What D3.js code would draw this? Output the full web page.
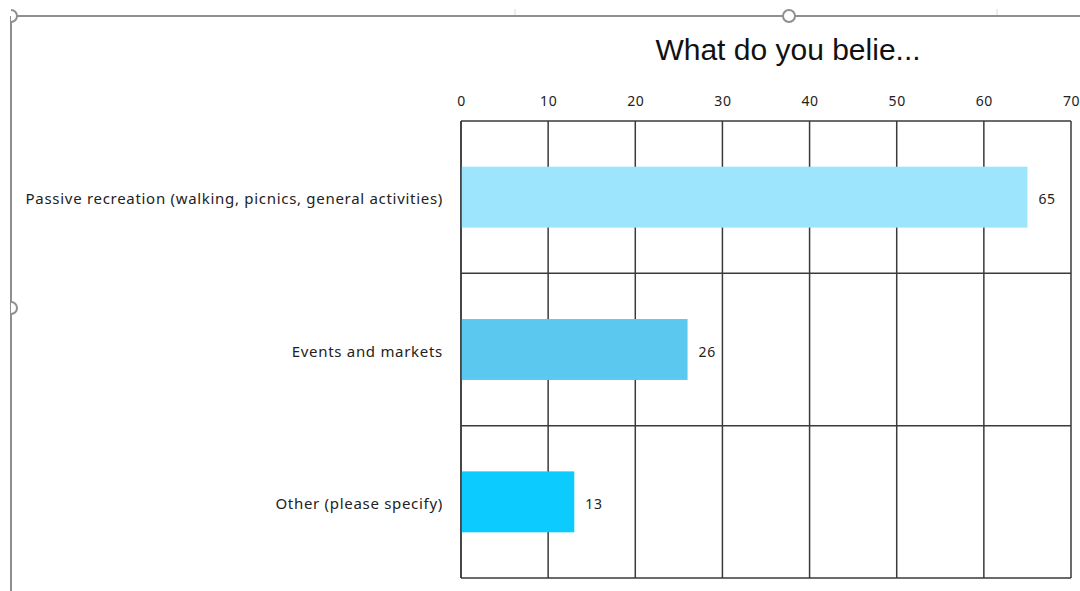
<!DOCTYPE html>
<html>
<head>
<meta charset="utf-8">
<script src="https://cdn.jsdelivr.net/npm/d3@7"></script>
<style>
  body { margin: 0; background: #fff; }
  svg { display: block; }
</style>
</head>
<body>
<script>
const categories = ["Passive recreation (walking, picnics, general activities)", "Events and markets", "Other (please specify)"];
const values = [65, 26, 13];
const barColors = ["#9de4fd", "#5bc9ef", "#0bcbff"];
const xTicks = [0, 10, 20, 30, 40, 50, 60, 70];
const title = "What do you belie...";

const width = 1080, height = 591;
const plotLeft = 461, plotRight = 1071, plotTop = 121, plotBottom = 578;

const svg = d3.select("body").append("svg")
    .attr("width", width)
    .attr("height", height);

// selection frame of the embedded chart
const frame = "#8f8f8f";
svg.append("clipPath").attr("id", "inside")
   .append("rect").attr("x", 11).attr("y", 0).attr("width", width).attr("height", height);
svg.append("line").attr("x1", 11).attr("x2", width).attr("y1", 16).attr("y2", 16)
   .style("stroke", frame).style("stroke-width", 2);
svg.append("line").attr("x1", 11).attr("x2", 11).attr("y1", 16).attr("y2", height)
   .style("stroke", frame).style("stroke-width", 2);
[515, 997].forEach(x => {
    svg.append("line").attr("x1", x).attr("x2", x).attr("y1", 9).attr("y2", 15)
       .style("stroke", "#dcdcdc").style("stroke-width", 1);
});
[[11, 16], [789, 16], [11, 308]].forEach(([cx, cy]) => {
    svg.append("circle").attr("cx", cx).attr("cy", cy).attr("r", 6)
       .attr("clip-path", "url(#inside)")
       .style("fill", "#fff").style("stroke", frame).style("stroke-width", 2);
});

const xScale = d3.scaleLinear().domain([0, 70]).range([plotLeft, plotRight]);
const yScale = d3.scaleBand().domain(categories).range([plotTop, plotBottom]).padding(0);

const grid = "#3a3a3a";
const labelFont = "'Noto Sans', sans-serif";

// vertical gridlines
svg.selectAll("line.vgrid")
   .data(xTicks)
   .enter()
   .append("line")
   .attr("class", "vgrid")
   .attr("x1", d => xScale(d)).attr("x2", d => xScale(d))
   .attr("y1", plotTop).attr("y2", plotBottom)
   .style("stroke", grid).style("stroke-width", 1.5);

// horizontal lines between categories
svg.selectAll("line.hgrid")
   .data(categories.concat(["_end"]))
   .enter()
   .append("line")
   .attr("class", "hgrid")
   .attr("x1", plotLeft).attr("x2", plotRight)
   .attr("y1", d => d === "_end" ? plotBottom : yScale(d))
   .attr("y2", d => d === "_end" ? plotBottom : yScale(d))
   .style("stroke", grid).style("stroke-width", 1.5);

// bars (drawn over the grid)
svg.selectAll("rect.bar")
   .data(values)
   .enter()
   .append("rect")
   .attr("class", "bar")
   .attr("x", xScale(0))
   .attr("y", (d, i) => yScale(categories[i]) + yScale.bandwidth() * 0.3)
   .attr("width", d => xScale(d) - xScale(0))
   .attr("height", yScale.bandwidth() * 0.4)
   .style("fill", (d, i) => barColors[i]);

// left edge of the plot stays visible over the bars
svg.append("line")
   .attr("x1", xScale(0)).attr("x2", xScale(0))
   .attr("y1", plotTop).attr("y2", plotBottom)
   .style("stroke", grid).style("stroke-width", 1.5);

// top axis labels
const xAxis = d3.axisTop(xScale).tickValues(xTicks).tickSize(0).tickPadding(0);
const gx = svg.append("g")
   .attr("transform", "translate(0," + (plotTop - 15) + ")")
   .call(xAxis);
gx.select(".domain").remove();
gx.selectAll("text")
  .style("font-family", labelFont)
  .style("font-size", "14px")
  .style("letter-spacing", "0.6px")
  .style("fill", "#222");

// category labels
const yAxis = d3.axisLeft(yScale).tickSize(0).tickPadding(18);
const gy = svg.append("g")
   .attr("transform", "translate(" + plotLeft + ",0)")
   .call(yAxis);
gy.select(".domain").remove();
gy.selectAll("text")
  .attr("dy", "0.47em")
  .style("font-family", labelFont)
  .style("font-size", "15px")
  .style("letter-spacing", "0.7px")
  .style("fill", "#222");

// value labels
svg.selectAll("text.value")
   .data(values)
   .enter()
   .append("text")
   .attr("class", "value")
   .attr("x", d => xScale(d) + 11)
   .attr("y", (d, i) => yScale(categories[i]) + yScale.bandwidth() / 2)
   .attr("dy", "0.5em")
   .text(d => d)
   .style("font-family", labelFont)
   .style("font-size", "14px")
   .style("letter-spacing", "0.6px")
   .style("fill", "#222");

// title
svg.append("text")
   .attr("x", 788)
   .attr("y", 60)
   .attr("text-anchor", "middle")
   .text(title)
   .style("font-family", "'Liberation Sans', Arial, sans-serif")
   .style("font-size", "30px")
   .style("fill", "#111");
</script>
</body>
</html>
